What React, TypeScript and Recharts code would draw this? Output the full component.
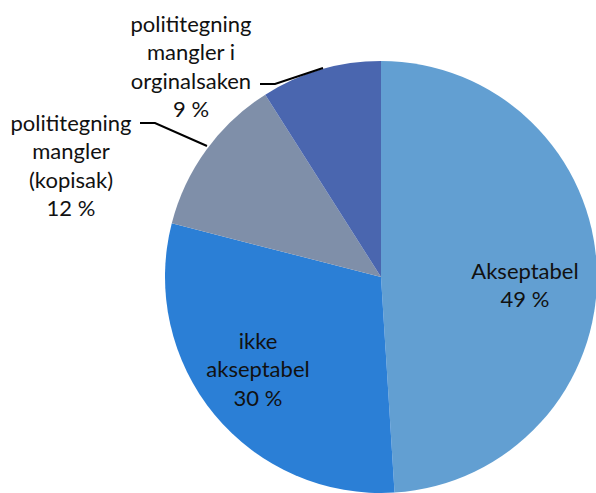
import React from "react"
import { PieChart, Pie, Cell } from "recharts"

const categories = [
  "Akseptabel",
  "ikke akseptabel",
  "polititegning mangler (kopisak)",
  "polititegning mangler i orginalsaken",
]
const values = [49, 30, 12, 9]
const labelLines = [
  ["Akseptabel"],
  ["ikke", "akseptabel"],
  ["polititegning", "mangler", "(kopisak)"],
  ["polititegning", "mangler i", "orginalsaken"],
]

const COLORS = ["#629FD2", "#2B7FD6", "#7F8FA9", "#4A66AF"]

const data = categories.map((name, i) => ({ name, value: values[i], lines: labelLines[i] }))

// label placement relative to pie centre, and leader line for outside labels
const LAYOUT = [
  { dx: 144, dy: -7, leader: null },
  { dx: -123, dy: 63, leader: null },
  { dx: -310, dy: -155, leader: [[-241, -154], [-226, -154], [-174, -131]] },
  { dx: -190, dy: -254, leader: [[-121, -193], [-106, -193], [-58, -209]] },
]

const LINE_H = 28.5

const renderLabel = (props: any) => {
  const { cx, cy, index } = props
  const d = data[index]
  const lay = LAYOUT[index]
  const lines = [...d.lines, `${d.value} %`]
  const x = cx + lay.dx
  const y0 = cy + lay.dy
  return (
    <g key={`lbl-${index}`}>
      {lay.leader && (
        <polyline
          points={lay.leader.map(([px, py]) => `${cx + px},${cy + py}`).join(" ")}
          fill="none"
          stroke="#000"
          strokeWidth={2}
        />
      )}
      <text x={x} y={y0} textAnchor="middle" fill="#111" fontSize={22} fontFamily="Lato, 'Open Sans', sans-serif">
        {lines.map((t, i) => (
          <tspan key={i} x={x} y={y0 + i * LINE_H} dominantBaseline="central">
            {t}
          </tspan>
        ))}
      </text>
    </g>
  )
}

export default function App() {
  return (
    <div style={{ position: "absolute", left: 0, top: 0, width: 596, height: 493, background: "#fff" }}>
      <PieChart width={596} height={493} margin={{ top: 0, right: 0, bottom: 0, left: 0 }}>
        <Pie
          data={data}
          dataKey="value"
          cx={381}
          cy={277}
          outerRadius={216}
          startAngle={90}
          endAngle={-270}
          stroke="none"
          labelLine={false}
          label={renderLabel}
          isAnimationActive={false}
        >
          {data.map((_, i) => (
            <Cell key={`cell-${i}`} fill={COLORS[i]} />
          ))}
        </Pie>
      </PieChart>
    </div>
  )
}
